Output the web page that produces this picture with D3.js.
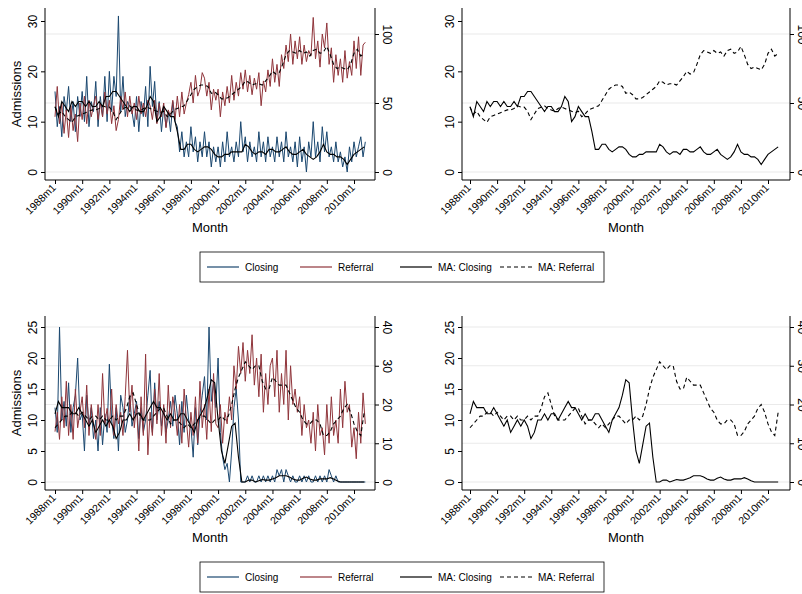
<!DOCTYPE html>
<html><head><meta charset="utf-8">
<script src="https://cdn.jsdelivr.net/npm/d3@7"></script>
<style>body{margin:0;background:#fff}text{font-family:"Liberation Sans",Arial,sans-serif}</style>
</head><body><svg id="c" width="802" height="594"></svg>
<script>
// bimonthly raw series (1988m1, m3, ...), quarterly MA series (1988m1, m4, ...)
const closingA=[16,9,13,7,15,12, 17,10,14,8,15,11, 16,10,19,9,14,12, 18,9,15,11,19,10, 20,12,19,15,31,12, 19,11,14,13,12,9, 15,8,14,11,17,9, 21,13,18,10,14,8, 13,9,12,8,14,10, 9,4,8,3,6,3, 9,4,7,2,6,3, 8,3,6,1,5,2, 5,1,6,2,8,3, 5,2,6,3,10,4, 7,2,6,3,5,2, 8,3,6,2,7,3, 5,2,7,3,6,2, 8,3,5,2,6,1, 7,2,5,0,6,3, 10,3,6,2,9,4, 8,3,5,2,6,2, 4,1,3,0,5,2, 6,3,5,7,3,6];
const maClosingA=[13,11,14,13, 12,14,13,14, 14,13,14,13, 13,14,13,15, 15,16,16,15, 14,13,12,13, 13,12,12,13, 15,14,10,11, 13,12,11,11, 8,4.5,4.5,5.5, 5.5,4.5,4,4.5, 5,5,4.5,3.5, 3,3,3.5,3.5, 4,4,4,4, 5.5,5,4,3.5, 4,4,3.5,4.5, 4.5,4,4,4.5, 5,4,3.5,3.5, 4,4.5,3.5,3, 2.5,3,4,5.5, 4,3.5,3.5,3, 3,2.5,1.5,2.5, 3.5,4,4.5,5];
const referralA=[40,62,35,50,28,45, 25,48,30,42,22,50, 38,55,35,52,40,48, 55,38,50,40,58,42, 52,35,48,30,38,55, 45,58,40,55,42,50, 38,55,42,50,40,52, 48,38,52,35,50,40, 50,32,45,40,52,38, 55,40,58,42,50,56, 65,50,70,55,60,72, 68,55,65,45,60,52, 60,40,58,48,62,50, 70,52,65,55,72,60, 74,58,70,56,68,60, 72,48,66,58,74,62, 82,65,78,62,85,75, 92,80,100,78,95,82, 98,78,92,80,88,84, 112,82,95,76,100,90, 108,78,90,65,85,70, 82,65,88,68,80,70, 95,75,98,70,92,94];
const maReferralA=[47,42,44,40, 38,36,40,41, 42,43,44,45, 45,46,48,47, 47,44,38,42, 46,47,48,46, 45,44,46,47, 46,45,44,43, 44,40,42,45, 46,47,48,52, 56,60,62,63, 63,62,57,58, 56,53,53,54, 56,58,60,62, 66,65,63,64, 64,63,66,69, 73,71,72,78, 85,88,87,86, 88,86,87,84, 88,89,86,87, 91,85,78,75, 76,75,74,78, 86,89,84,86];
const closingB=[12,8,25,10,13,9, 16,8,12,14,20,10, 11,5,14,9,12,7, 10,5,12,6,11,8, 19,10,7,12,5,14, 12,8,10,14,9,11, 13,7,12,8,10,14, 18,8,16,10,13,9, 12,8,10,13,9,14, 11,6,13,8,14,10, 9,4,12,6,11,14, 17,10,25,13,16,12, 20,8,4,2,3,0, 5,12,15,10,0,0, 0,1,0,1,0,0, 1,0,1,0,1,0, 1,0,2,1,2,0, 2,1,0,1,0,0, 1,0,1,0,1,0, 0,1,0,1,0,1, 0,2,1,0,1,0, 0,0,0,0,0,0, 0,0,0,0,0,0];
const maClosingB=[11,13,12,12, 12,11,11,12, 11,10,9,10, 8,9,10,9, 10,9,7,8, 10,10,11,10, 11,11,10,11, 12,13,12,12, 11,10,11,10, 10,11,11,10, 9,8,10,11, 12,14,16.5,16, 10,5,3,6, 9,9.5,4,0, 0,0.3,0.3,0, 0.2,0.4,0.3,0.3, 0.5,0.7,1,1, 1,0.8,0.5,0.3, 0.3,0.6,0.8,0.5, 0.3,0.3,0.5,0.5, 0.5,0.7,0.5,0.2, 0,0,0,0, 0,0,0,0];
const referralB=[13,18,11,22,14,26, 12,20,11,24,14,18, 22,14,25,12,20,15, 11,20,12,28,15,19, 14,24,12,20,15,18, 12,22,34,18,25,14, 20,8,22,12,33,7, 18,12,24,15,28,12, 20,10,25,14,22,18, 12,20,10,24,16,9, 18,12,22,10,26,14, 20,11,24,13,28,15, 14,20,10,18,15,22, 16,30,24,35,28,36, 26,34,28,38,25,32, 22,33,18,28,20,30, 32,22,34,18,28,20, 34,16,30,20,24,18, 22,12,20,14,16,10, 18,8,20,12,14,7, 20,10,22,12,16,10, 24,14,26,18,20,9, 14,6,18,10,23,15];
const maReferralB=[14,15,16,17, 17,18,18,17, 18,17,16,17, 17,16,17,16, 16,17,16,17, 17,19,22,23, 20,17,16,16, 16,17,18,19, 19,17,15,16, 16,15,14,15, 14,15,16,17, 17,16,15,16, 16,17,16,17, 20,24,27,29, 31,30,29,30, 30,26,24,24, 27,26,25,25, 25,23,21,19, 18,16,15,15, 16,16,15,12, 12,13,15,16, 17,19,20,18, 15,13,12,18];
const xTickYears=[1988,1990,1992,1994,1996,1998,2000,2002,2004,2006,2008,2010];
const legendLabels=["Closing","Referral","MA: Closing","MA: Referral"];
const BLUE="#1a476f", RED="#90353b";

const svg=d3.select("#c");
const bi=a=>a.map((v,i)=>({t:i*2,v})), qu=a=>a.map((v,i)=>({t:i*3,v}));

function panel(o){
  const g=svg.append("g");
  const x=d3.scaleLinear().domain([0,264]).range([o.x0,o.x1]);
  const yl=d3.scaleLinear().domain([0,o.lmax]).range([o.y0,o.ylTop]);
  const yr=d3.scaleLinear().domain([0,o.rmax]).range([o.y0,o.yrTop]);
  o.rticks.forEach(t=>g.append("line").attr("x1",o.ax).attr("x2",o.rx).attr("y1",yr(t)).attr("y2",yr(t)).attr("stroke","#eaeaea").attr("stroke-width",1.2));
  const ln=(s)=>d3.line().x(d=>x(d.t)).y(d=>s(d.v));
  if(o.raw){
    g.append("path").datum(bi(o.clo)).attr("d",ln(yl)).attr("fill","none").attr("stroke",BLUE).attr("stroke-width",1);
    g.append("path").datum(bi(o.ref)).attr("d",ln(yr)).attr("fill","none").attr("stroke",RED).attr("stroke-width",1);
  }
  g.append("path").datum(qu(o.maC)).attr("d",ln(yl)).attr("fill","none").attr("stroke","#000").attr("stroke-width",1.1);
  g.append("path").datum(qu(o.maR)).attr("d",ln(yr)).attr("fill","none").attr("stroke","#000").attr("stroke-width",1.1).attr("stroke-dasharray","4,3");
  const ab=o.y0+8;
  const la=g.append("g").attr("transform",`translate(${o.ax},0)`).call(d3.axisLeft(yl).tickValues(o.lticks).tickSize(4).tickSizeOuter(0));
  la.select(".domain").attr("d",`M0,${o.top}V${ab}`);
  la.selectAll("text").attr("transform","rotate(-90)").attr("x",0).attr("y",-8).attr("dy","0").attr("text-anchor","middle").attr("font-size",12);
  const ra=g.append("g").attr("transform",`translate(${o.rx},0)`).call(d3.axisRight(yr).tickValues(o.rticks).tickSize(4).tickSizeOuter(0));
  ra.select(".domain").attr("d",`M0,${o.top}V${ab}`);
  ra.selectAll("text").attr("transform","rotate(90)").attr("x",0).attr("y",-8).attr("dy","0").attr("text-anchor","middle").attr("font-size",12);
  const xa=g.append("g").attr("transform",`translate(0,${ab})`).call(d3.axisBottom(x).tickValues(xTickYears.map(yy=>(yy-1988)*12)).tickFormat(v=>(1988+v/12)+"m1").tickSize(4).tickSizeOuter(0));
  xa.select(".domain").attr("d",`M${o.ax},0H${o.rx}`);
  xa.selectAll("text").attr("transform","rotate(-45)").attr("text-anchor","end").attr("x",-5).attr("y",3).attr("dy","0.35em").attr("font-size",10.5);
  g.selectAll(".tick line").attr("stroke","#000");
  g.selectAll(".domain").attr("stroke","#000");
  g.append("text").attr("x",(o.ax+o.rx)/2).attr("y",ab+52).attr("text-anchor","middle").attr("font-size",13).text("Month");
  if(o.ytitle) g.append("text").attr("transform",`translate(${o.ax-24},${(o.top+ab)/2}) rotate(-90)`).attr("text-anchor","middle").attr("font-size",13).text("Admissions");
}
function legend(cy){
  const g=svg.append("g");
  g.append("rect").attr("x",200).attr("y",cy-15).attr("width",404).attr("height",30).attr("fill","#fff").attr("stroke","#000").attr("stroke-width",0.8);
  const xs=[207,300,400,500], st=[[BLUE,null],[RED,null],["#000",null],["#000","4,3"]];
  legendLabels.forEach((l,i)=>{
    g.append("line").attr("x1",xs[i]).attr("x2",xs[i]+32).attr("y1",cy).attr("y2",cy).attr("stroke",st[i][0]).attr("stroke-width",1.2).attr("stroke-dasharray",st[i][1]);
    g.append("text").attr("x",xs[i]+38).attr("y",cy+3.5).attr("font-size",10).text(l);
  });
}
const T={y0:172,ylTop:21,lmax:30,rmax:100,yrTop:34,top:8,lticks:[0,10,20,30],rticks:[0,50,100]};
const B={y0:482,ylTop:327,lmax:25,rmax:40,yrTop:327,top:316,lticks:[0,5,10,15,20,25],rticks:[0,10,20,30,40]};
panel({...T,x0:55,x1:354,ax:45,rx:375,raw:true,ytitle:true,clo:closingA,ref:referralA,maC:maClosingA,maR:maReferralA});
panel({...T,x0:470,x1:768,ax:462,rx:790,raw:false,ytitle:false,clo:closingA,ref:referralA,maC:maClosingA,maR:maReferralA});
panel({...B,x0:55,x1:354,ax:45,rx:375,raw:true,ytitle:true,clo:closingB,ref:referralB,maC:maClosingB,maR:maReferralB});
panel({...B,x0:470,x1:768,ax:462,rx:790,raw:false,ytitle:false,clo:closingB,ref:referralB,maC:maClosingB,maR:maReferralB});
legend(267); legend(577);
</script></body></html>
